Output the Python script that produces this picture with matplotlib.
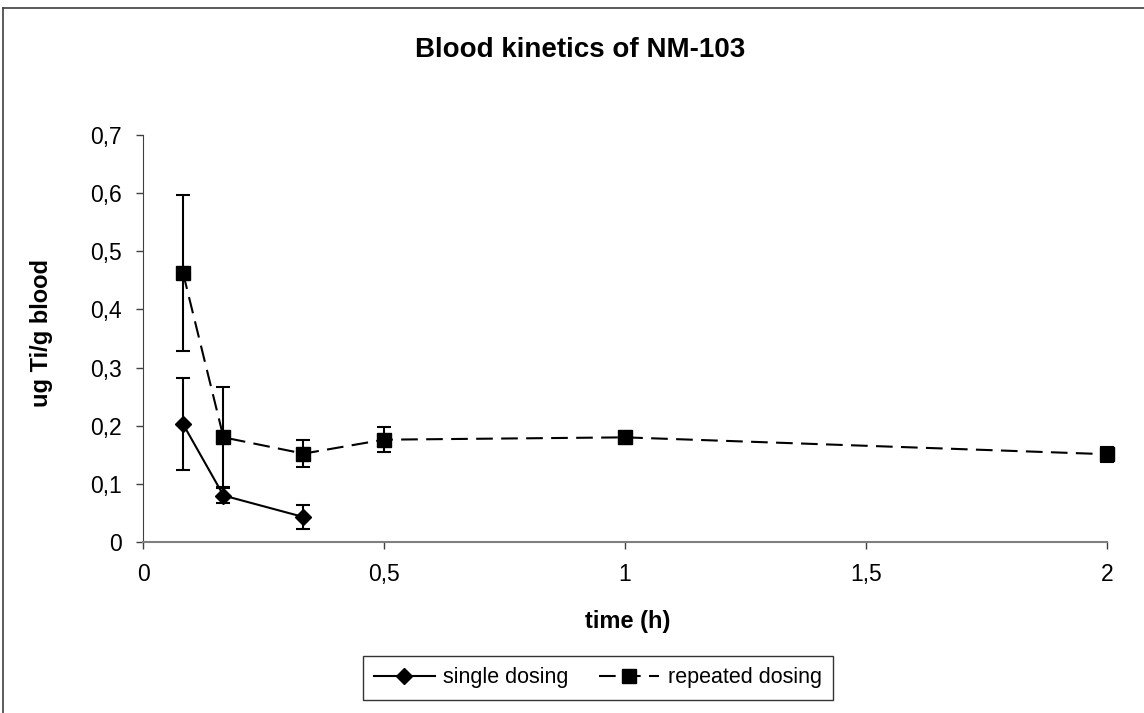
import matplotlib.pyplot as plt
from matplotlib.lines import Line2D
from matplotlib.ticker import FuncFormatter

plt.rcParams['font.family'] = ['Liberation Sans', 'DejaVu Sans']

# time points (h) and blood concentrations
time_single = [0.083, 0.167, 0.333]
conc_single = [0.203, 0.080, 0.043]
err_single = [0.079, 0.0135, 0.020]

time_repeated = [0.083, 0.167, 0.333, 0.5, 1.0, 2.0]
conc_repeated = [0.463, 0.180, 0.152, 0.176, 0.180, 0.151]
err_repeated = [0.134, 0.086, 0.023, 0.021, 0.004, 0.013]

x_ticks = [0, 0.5, 1, 1.5, 2]
y_ticks = [0, 0.1, 0.2, 0.3, 0.4, 0.5, 0.6, 0.7]


def comma_fmt(v, pos):
    s = f"{v:g}"
    return s.replace(".", ",")


fig = plt.figure(figsize=(11.44, 7.13), dpi=100)
ax = fig.add_axes([0.125, 0.2398, 0.8425, 0.5709])

dash = (0, (8, 4))
eb1 = ax.errorbar(time_single, conc_single, yerr=err_single, color="black",
                  lw=1.5, marker="D", markersize=8, capsize=5, elinewidth=1.5,
                  capthick=1.5)
eb2 = ax.errorbar(time_repeated, conc_repeated, yerr=err_repeated, color="black",
                  lw=1.5, ls=dash, marker="s", markersize=10, capsize=5,
                  elinewidth=1.5, capthick=1.5)
for eb in (eb1, eb2):
    for art in eb.get_children():
        art.set_clip_on(False)

ax.set_xlim(0, 2)
ax.set_ylim(0, 0.7)
ax.set_xticks(x_ticks)
ax.set_yticks(y_ticks)
ax.xaxis.set_major_formatter(FuncFormatter(comma_fmt))
ax.yaxis.set_major_formatter(FuncFormatter(comma_fmt))
ax.tick_params(axis="both", labelsize=16.5, length=5, width=1, color="#404040", pad=10)

for s in ["top", "right"]:
    ax.spines[s].set_visible(False)
ax.spines["left"].set_color("#404040")
ax.spines["bottom"].set_color("#808080")
ax.spines["bottom"].set_linewidth(1.5)

ax.set_xlabel("time (h)", fontsize=17, fontweight="bold")
ax.set_ylabel("ug Ti/g blood", fontsize=17, fontweight="bold")
ax.xaxis.set_label_coords(0.503, -0.167)
ax.yaxis.set_label_coords(-0.0934, 0.514)

fig.text(580 / 1144, 1 - 50 / 713, "Blood kinetics of NM-103", ha="center",
         va="center", fontsize=20, fontweight="bold")

handles = [
    Line2D([], [], color="black", lw=1.5, marker="D", markersize=8),
    Line2D([], [], color="black", lw=1.5, ls=dash, marker="s", markersize=10),
]
labels = ["single dosing", "repeated dosing"]
leg = fig.legend(handles, labels, loc="center",
                 bbox_to_anchor=(598 / 1144, 1 - 678 / 713), ncol=2,
                 fontsize=15.5, frameon=True, fancybox=False,
                 edgecolor="black", handlelength=2.8, handletextpad=0.4,
                 columnspacing=1.4, borderpad=0.55)
leg.get_frame().set_linewidth(1)

# outer chart frame (top and left edges visible)
fig.add_artist(Line2D([0.003, 1.0], [0.989, 0.989], color="#404040", lw=1.2,
                      transform=fig.transFigure))
fig.add_artist(Line2D([0.003, 0.003], [0.0, 0.989], color="#404040", lw=1.2,
                      transform=fig.transFigure))

fig.savefig("out.png", dpi=100)
